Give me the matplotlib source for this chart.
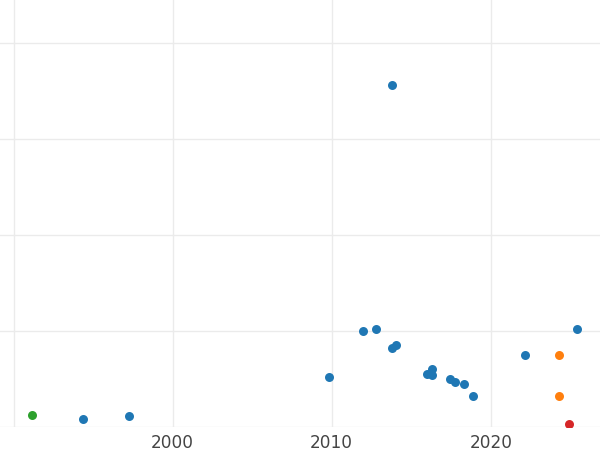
import matplotlib
matplotlib.use("Agg")
import matplotlib.pyplot as plt

# data (year, value); y units are arbitrary (gridline = 1)
BLUE_YEAR = [1994.37, 1997.26, 2009.8, 2011.96, 2012.8, 2013.79, 2014.04, 2013.8,
             2016.0, 2016.3, 2016.3, 2017.45, 2017.77, 2018.3, 2018.86, 2022.13, 2025.44]
BLUE_VAL = [0.08, 0.11, 0.52, 1.0, 1.02, 0.82, 0.85, 3.56,
            0.55, 0.60, 0.545, 0.50, 0.47, 0.45, 0.32, 0.75, 1.02]
ORANGE_YEAR = [2024.31, 2024.31]
ORANGE_VAL = [0.75, 0.32]
GREEN_YEAR = [1991.14]
GREEN_VAL = [0.125]
RED_YEAR = [2024.89]
RED_VAL = [0.03]

XTICKS = [1990, 2000, 2010, 2020]
XTICK_LABELS = ["", "2000", "2010", "2020"]
YTICKS = [0, 1, 2, 3, 4]

fig = plt.figure(figsize=(6, 4.5), dpi=100)
ax = fig.add_axes([0, 23 / 450, 1, 1 - 23 / 450])

S = 42
ax.scatter(BLUE_YEAR, BLUE_VAL, s=S, color="#1f77b4", linewidths=0, zorder=3)
ax.scatter(ORANGE_YEAR, ORANGE_VAL, s=S, color="#ff7f0e", linewidths=0, zorder=3)
ax.scatter(GREEN_YEAR, GREEN_VAL, s=S, color="#2ca02c", linewidths=0, zorder=3)
ax.scatter(RED_YEAR, RED_VAL, s=S, color="#d62728", linewidths=0, zorder=3)

ax.set_xlim(1989.15, 2026.86)
ax.set_ylim(0, 4.448)
ax.set_xticks(XTICKS)
ax.set_xticklabels(XTICK_LABELS)
ax.set_yticks(YTICKS)
ax.set_yticklabels([])
ax.tick_params(length=0, labelsize=12.2, labelcolor="#444444", pad=5)
ax.grid(color="#ebebeb", lw=1.0)
ax.set_axisbelow(True)
for sp in ax.spines.values():
    sp.set_visible(False)

fig.savefig("out.png", dpi=100)
